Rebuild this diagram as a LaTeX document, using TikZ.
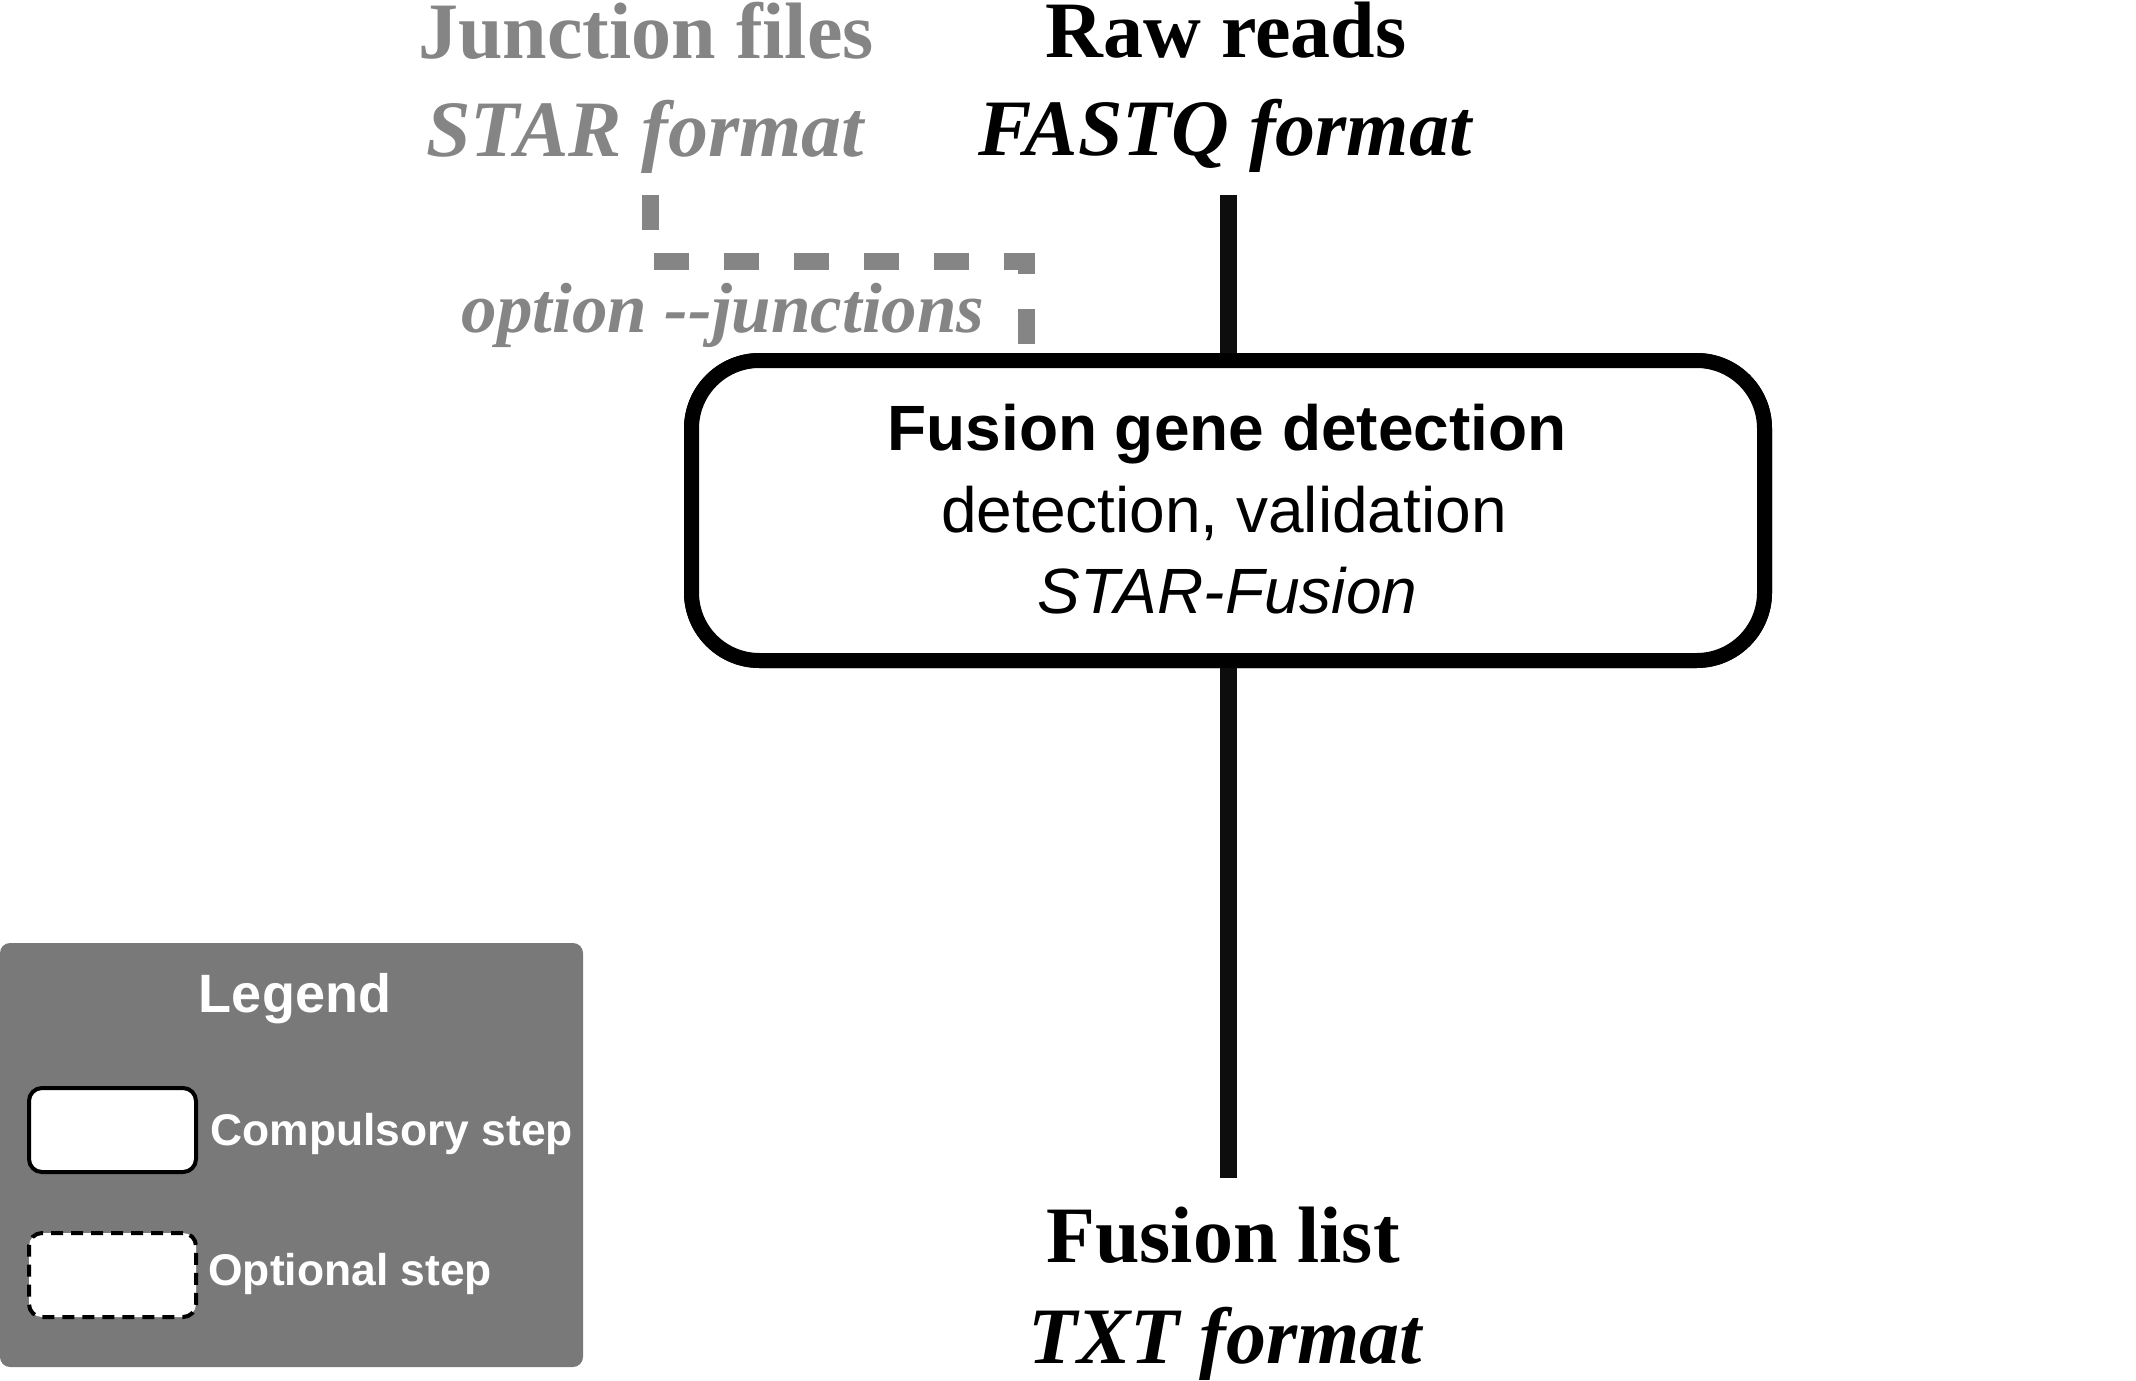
\documentclass[tikz,border=0pt]{standalone}
\usepackage{fontspec}
\setmainfont{Liberation Serif}
\setsansfont{Liberation Sans}
\definecolor{optgray}{HTML}{858585}
\definecolor{leggray}{HTML}{797979}
\definecolor{linek}{HTML}{0D0D0D}
\begin{document}
\begin{tikzpicture}[x=0.5pt,y=-0.5pt,
  lbl/.style={inner sep=0pt, outer sep=0pt, anchor=base},
  iotxt/.style={lbl, font=\fontsize{40}{48}\selectfont\bfseries},
  iofmt/.style={lbl, font=\fontsize{40}{48}\selectfont\bfseries\itshape},
  optcol/.style={text=optgray},
  boxtitle/.style={lbl, font=\fontsize{32}{38}\selectfont\sffamily\bfseries},
  boxsub/.style={lbl, font=\fontsize{32}{38}\selectfont\sffamily},
  boxtool/.style={lbl, font=\fontsize{32}{38}\selectfont\sffamily\itshape},
  stepbox/.style={draw=black, fill=white, line width=7.5pt, rounded corners=34pt,
    minimum width=536.5pt, minimum height=150pt, inner sep=0pt},
  flowline/.style={draw=linek, line width=8.5pt, line cap=butt},
  optline/.style={draw=optgray, line width=8.5pt, line cap=butt,
    dash pattern=on 17.5pt off 17.5pt},
  legbox/.style={fill=leggray, rounded corners=5pt, minimum width=291.5pt,
    minimum height=212pt, inner sep=0pt},
  legtitle/.style={lbl, text=white, font=\fontsize{27}{32}\selectfont\sffamily\bfseries},
  legitem/.style={inner sep=0pt, anchor=base west, text=white,
    font=\fontsize{22.2}{26}\selectfont\sffamily\bfseries},
  legcomp/.style={draw=black, fill=white, line width=2pt, rounded corners=6.5pt,
    minimum width=83.5pt, minimum height=42pt, inner sep=0pt},
  legopt/.style={legcomp, dash pattern=on 6pt off 4pt}
]
\useasboundingbox (0,0) rectangle (2136,1381);

% inputs
\node[iotxt, optcol] (jfiles) at (646,58) {Junction files};
\node[iofmt, optcol] (jfmt) at (645,156) {STAR format};
\node[iotxt] (raw) at (1226,57) {Raw reads};
\node[iofmt] (rawfmt) at (1225,155) {FASTQ format};
\node[lbl, optcol, font=\fontsize{35.5}{42}\selectfont\bfseries\itshape] (optlbl) at (723,332) {option -{}-junctions};

% main step box
\node[stepbox] (fgd) at (1228,510.5) {};

% connectors
\coordinate (jstart) at (650,195);
\coordinate (jbend) at (1026,261);
\draw[optline] (jstart) |- (jbend) -- (jbend |- fgd.north);
\coordinate (rawend) at (1228,195);
\draw[flowline] (rawend) -- (fgd.north);
\coordinate (outend) at (1228,1178);
\draw[flowline] (fgd.south) -- (outend);

% redraw box on top
\node[stepbox] (fgdtop) at (fgd) {};
\node[boxtitle] (t1) at (1227,450) {Fusion gene detection};
\node[boxsub] (t2) at (1224,532) {detection, validation};
\node[boxtool] (t3) at (1227.5,613) {STAR-Fusion};

% output
\node[iotxt] (out) at (1223,1262) {Fusion list};
\node[iofmt] (outfmt) at (1225,1363) {TXT format};

% legend
\node[legbox] (legend) at (291.5,1155) {};
\node[legtitle] (legt) at (295,1012) {Legend};
\node[legcomp] (lcomp) at (112.5,1130) {};
\node[legitem] (lcompt) at (210,1145) {Compulsory step};
\node[legopt] (lopt) at (112.5,1275) {};
\node[legitem] (loptt) at (208,1285) {Optional step};
\end{tikzpicture}
\end{document}
